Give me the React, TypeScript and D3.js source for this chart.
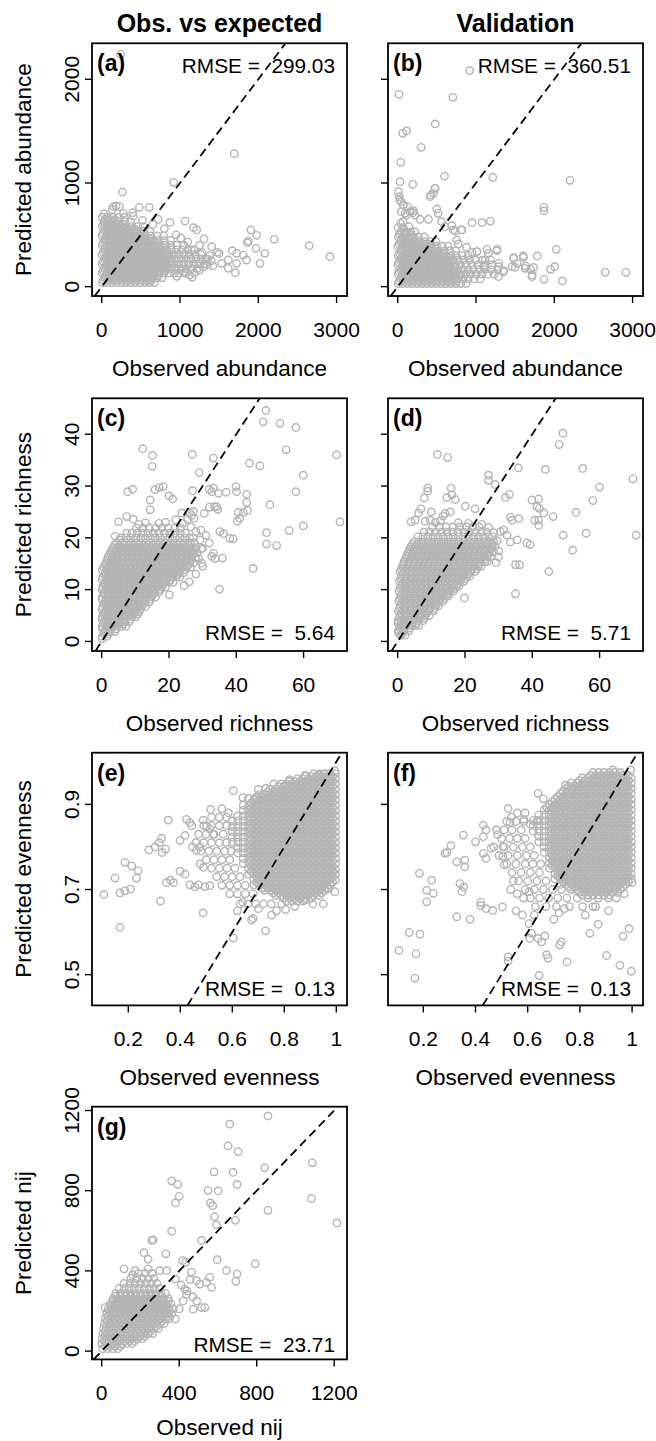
import React from "react";
import * as d3 from "d3";

type Pt = [number, number];

// Scattered points as [observed, predicted].
// Dense central masses as rows: [predicted, observed, observed, ...].

// (a) abundance, observed vs expected
const abundFitMass: number[][] = [
  [40, 8, 70, 128, 190, 252, 310, 372, 430, 495, 555, 615, 675],
  [62, 23, 85, 143, 205, 267, 325, 387, 445, 510, 570, 630],
  [85, 35, 95, 158, 218, 280, 340, 400, 462, 522, 585, 645, 705, 770],
  [107, 50, 110, 173, 233, 295, 355, 415, 477, 537, 600, 660, 720],
  [130, 5, 65, 125, 187, 248, 308, 368, 430, 490, 552, 612, 672, 735, 795, 860, 925, 990, 1060],
  [152, 20, 80, 140, 202, 263, 323, 383, 445, 505, 567, 627, 687, 750, 810],
  [175, 35, 97, 157, 217, 278, 340, 400, 460, 522, 582, 645, 705, 765, 828, 890, 950, 1015, 1080, 1150, 1220],
  [197, 50, 112, 172, 232, 293, 355, 415, 475, 537, 597, 660, 720, 780, 843],
  [220, 4, 66, 127, 188, 249, 311, 372, 433, 494, 556, 617, 678, 740, 801, 862, 924, 985, 1046, 1110, 1175, 1240, 1310],
  [242, 19, 81, 142, 203, 264, 326, 387, 448, 509, 571, 632, 693, 755, 816, 877],
  [265, 36, 97, 158, 219, 280, 342, 403, 464, 525, 587, 648, 709, 770, 832, 893, 954, 1015, 1078, 1140, 1205, 1275, 1350],
  [287, 51, 112, 173, 234, 295, 357, 418, 479, 540, 602, 663, 724, 785, 847],
  [310, 3, 64, 125, 186, 247, 309, 370, 431, 492, 554, 615, 676, 737, 799, 860, 921, 985, 1050, 1120, 1195, 1265],
  [332, 18, 79, 140, 201, 262, 324, 385, 446, 507, 569, 630, 691, 752, 814],
  [355, 34, 95, 156, 217, 278, 340, 401, 462, 523, 585, 646, 707, 768, 830, 891, 955, 1025, 1100, 1180],
  [377, 49, 110, 171, 232, 293, 355, 416, 477, 538, 600, 661, 722, 783],
  [400, 6, 67, 128, 189, 250, 312, 373, 434, 495, 557, 618, 679, 742, 808, 880, 960, 1050],
  [422, 21, 82, 143, 204, 265, 327, 388, 449, 510, 572, 633, 694],
  [445, 37, 98, 159, 220, 281, 343, 404, 465, 526, 590, 655, 725, 800, 880],
  [467, 52, 113, 174, 235, 296, 358, 419, 480, 541, 605],
  [490, 2, 63, 124, 185, 246, 308, 369, 430, 494, 560, 630, 710, 790],
  [512, 17, 78, 139, 200, 261, 323, 384, 445, 509],
  [535, 33, 94, 155, 216, 277, 340, 405, 470, 540, 615],
  [557, 48, 109, 170, 231, 292, 355, 420],
  [580, 5, 66, 127, 188, 250, 315, 385, 460, 530],
  [602, 20, 81, 142, 203, 265],
  [625, 30, 92, 155, 222, 295, 370],
  [647, 45, 107, 170],
  [670, 8, 70, 140, 215, 290],
];
const abundFitPts: Pt[] = [
  [243, 2241], [1694, 1283], [919, 1006], [264, 913], [1064, 633], [1170, 569], [1213, 547], [1306, 460],
  [1404, 386], [1906, 547], [1979, 495], [2204, 457], [2651, 395], [2915, 289], [1477, 331], [1500, 318],
  [1532, 225], [1617, 257], [1668, 347], [1723, 322], [1723, 225], [1860, 424], [1872, 440], [1970, 370],
  [2021, 225], [2085, 322], [1617, 177], [1706, 135], [1851, 257], [1808, 305], [1349, 209], [1157, 90],
  [1064, 145], [638, 90], [608, 765], [481, 765], [396, 714], [404, 682], [723, 649], [872, 620],
  [30, 701], [149, 772], [183, 778], [226, 772], [135, 745], [277, 707], [43, 611], [520, 640],
  [650, 600], [800, 560], [950, 500], [1010, 470], [1100, 430], [1250, 400], [1380, 300], [1400, 250],
  [1250, 160], [1300, 190], [1180, 130], [1120, 110], [960, 100], [1330, 270], [1280, 330], [1150, 350],
  [1050, 400], [1420, 200],
];

// (b) abundance, validation
const abundValMass: number[][] = [
  [30, 5, 66, 127, 188, 250, 311, 372, 433, 494, 556, 617, 678, 740, 805, 875],
  [52, 20, 81, 142, 203, 265, 326, 387, 448, 509, 571, 632, 693, 755],
  [75, 36, 97, 158, 219, 280, 342, 403, 464, 525, 587, 648, 709, 770, 832, 900, 975, 1055],
  [97, 51, 112, 173, 234, 295, 357, 418, 479, 540, 602, 663, 724, 785],
  [120, 4, 65, 126, 187, 248, 310, 371, 432, 493, 555, 616, 677, 738, 800, 865, 930, 1000, 1075, 1150, 1230],
  [142, 19, 80, 141, 202, 263, 325, 386, 447, 508, 570, 631, 692, 753],
  [165, 35, 96, 157, 218, 279, 341, 402, 463, 524, 586, 647, 708, 769, 835, 900, 970, 1040, 1115, 1195, 1280],
  [187, 50, 111, 172, 233, 294, 356, 417, 478, 539, 601, 662, 723],
  [210, 2, 63, 124, 185, 246, 308, 369, 430, 491, 553, 614, 675, 736, 800, 870, 945, 1025, 1110, 1200],
  [232, 17, 78, 139, 200, 261, 323, 384, 445, 506, 568, 629, 690],
  [255, 33, 94, 155, 216, 277, 339, 400, 461, 522, 584, 645, 706, 770, 840, 915, 995, 1080],
  [277, 48, 109, 170, 231, 292, 354, 415, 476, 537, 599, 660],
  [300, 6, 67, 128, 189, 250, 312, 373, 434, 495, 557, 618, 682, 750, 825, 900],
  [322, 21, 82, 143, 204, 265, 327, 388, 449, 510, 572],
  [345, 37, 98, 159, 220, 281, 343, 404, 465, 528, 595, 665, 740],
  [367, 52, 113, 174, 235, 296, 358, 419, 480],
  [390, 3, 64, 125, 186, 247, 309, 370, 432, 498, 570, 645],
  [412, 18, 79, 140, 201, 262, 324, 385],
  [435, 34, 95, 156, 217, 280, 345, 415, 490],
  [457, 49, 110, 171, 232],
  [480, 7, 68, 130, 195, 265, 340],
  [502, 22, 83],
  [525, 38, 100, 165],
  [570, 4, 70],
];
const abundValPts: Pt[] = [
  [919, 2083], [17, 1855], [705, 1826], [479, 1569], [64, 1479], [115, 1502], [299, 1344], [38, 1199],
  [598, 1067], [30, 1013], [192, 987], [1214, 1055], [2201, 1026], [1868, 765], [1868, 730], [2650, 138],
  [2915, 138], [2026, 360], [2103, 55], [1868, 71], [1953, 167], [2004, 193], [1782, 296], [1603, 296],
  [1483, 280], [1462, 193], [1633, 199], [1697, 167], [1718, 113], [1269, 360], [1184, 633], [1077, 617],
  [949, 617], [820, 547], [735, 537], [692, 588], [286, 650], [393, 650], [500, 749], [415, 868],
  [457, 900], [479, 948], [9, 916], [21, 868], [43, 820], [73, 788], [124, 772], [94, 707],
  [158, 723], [38, 611], [81, 547], [201, 733], [222, 691], [26, 836], [68, 788], [47, 723],
  [111, 691], [197, 714], [68, 627], [141, 579], [90, 514], [175, 498], [218, 530], [423, 884],
  [474, 948], [517, 707], [560, 627], [603, 579], [709, 547], [752, 450], [774, 412], [816, 547],
  [1009, 338], [1158, 322], [1265, 347], [1116, 257], [1287, 193], [1351, 145], [1287, 96], [1479, 273],
  [1607, 283], [1500, 186], [1628, 177], [1735, 186], [1714, 96], [1355, 154], [1291, 225], [1013, 338],
  [1141, 360], [1184, 257], [1098, 193], [1526, 225], [880, 380], [950, 330],
];

// (c) richness, observed vs expected
const richFitMass: number[][] = [
  [1.0, 0.2, 1.6],
  [1.5, 0.6, 2.0],
  [1.9, 0.9, 2.4, 3.9],
  [2.4, 0.3, 1.3, 2.8, 4.3],
  [2.9, 0.1, 1.5, 3.0, 4.5, 6.0, 7.2],
  [3.4, 0.5, 1.9, 3.4, 4.9, 6.4],
  [3.8, 0.8, 2.3, 3.8, 5.2, 6.7, 8.2],
  [4.3, 0.1, 1.2, 2.7, 4.2, 5.6, 7.1, 8.6],
  [4.8, 0.2, 1.6, 3.1, 4.6, 6.0, 7.5, 9.0, 10.2],
  [5.3, 0.6, 2.0, 3.5, 5.0, 6.4, 7.9, 9.4, 10.6],
  [5.7, 0.9, 2.4, 3.8, 5.3, 6.8, 8.2, 9.7, 11.1],
  [6.2, 0.1, 1.3, 2.8, 4.2, 5.7, 7.2, 8.6, 10.1, 11.5],
  [6.7, 0.3, 1.7, 3.2, 4.6, 6.1, 7.6, 9.0, 10.5, 11.9, 13.0],
  [7.2, 0.7, 2.1, 3.6, 5.0, 6.5, 8.0, 9.4, 10.9, 12.3],
  [7.6, 1.0, 2.4, 3.9, 5.4, 6.8, 8.3, 9.7, 11.2, 12.7, 14.1],
  [8.1, 0.1, 1.4, 2.8, 4.3, 5.8, 7.2, 8.7, 10.1, 11.6, 13.1, 14.5],
  [8.6, 0.2, 1.7, 3.2, 4.6, 6.1, 7.5, 9.0, 10.4, 11.9, 13.4, 14.8, 16.0],
  [9.1, 0.6, 2.1, 3.6, 5.0, 6.5, 7.9, 9.4, 10.8, 12.3, 13.8, 15.2],
  [9.5, 0.9, 2.4, 3.9, 5.3, 6.8, 8.2, 9.7, 11.2, 12.6, 14.1, 15.5, 17.0],
  [10.0, 0.1, 1.3, 2.8, 4.3, 5.7, 7.2, 8.6, 10.1, 11.6, 13.0, 14.5, 15.9, 17.4],
  [10.5, 0.3, 1.7, 3.2, 4.6, 6.1, 7.6, 9.0, 10.5, 11.9, 13.4, 14.8, 16.3, 17.8, 19.0],
  [11.0, 0.7, 2.1, 3.6, 5.0, 6.5, 8.0, 9.4, 10.9, 12.3, 13.8, 15.2, 16.7, 18.2],
  [11.4, 1.0, 2.5, 3.9, 5.4, 6.8, 8.3, 9.8, 11.2, 12.7, 14.1, 15.6, 17.0, 18.5, 20.0, 21.2],
  [11.9, 0.1, 1.4, 2.9, 4.3, 5.8, 7.2, 8.7, 10.2, 11.6, 13.1, 14.5, 16.0, 17.4, 18.9, 20.4],
  [12.4, 0.4, 1.8, 3.3, 4.7, 6.2, 7.7, 9.1, 10.6, 12.0, 13.5, 14.9, 16.4, 17.9, 19.3, 20.8, 22.2, 23.2],
  [12.9, 0.8, 2.2, 3.7, 5.1, 6.6, 8.1, 9.5, 11.0, 12.4, 13.9, 15.3, 16.8, 18.3, 19.7, 21.2, 22.6],
  [13.3, 1.1, 2.6, 4.0, 5.5, 7.0, 8.4, 9.9, 11.3, 12.8, 14.2, 15.7, 17.2, 18.6, 20.1, 21.5, 23.0, 24.4],
  [13.8, 0.2, 1.5, 3.0, 4.4, 5.9, 7.4, 8.8, 10.3, 11.7, 13.2, 14.6, 16.1, 17.6, 19.0, 20.5, 21.9, 23.4, 24.8],
  [14.3, 0.6, 2.0, 3.5, 4.9, 6.4, 7.9, 9.3, 10.8, 12.2, 13.7, 15.1, 16.6, 18.1, 19.5, 21.0, 22.4, 23.9, 25.3, 26.4],
  [14.8, 1.0, 2.4, 3.9, 5.3, 6.8, 8.3, 9.7, 11.2, 12.6, 14.1, 15.5, 17.0, 18.5, 19.9, 21.4, 22.8, 24.3, 25.7],
  [15.2, 1.3, 2.8, 4.2, 5.7, 7.2, 8.6, 10.1, 11.5, 13.0, 14.4, 15.9, 17.4, 18.8, 20.3, 21.7, 23.2, 24.6, 26.1, 27.3],
  [15.7, 1.7, 3.2, 4.6, 6.1, 7.6, 9.0, 10.5, 11.9, 13.4, 14.8, 16.3, 17.8, 19.2, 20.7, 22.1, 23.6, 25.0, 26.5],
  [16.2, 1.8, 3.3, 4.7, 6.2, 7.7, 9.1, 10.6, 12.0, 13.5, 14.9, 16.4, 17.9, 19.3, 20.8, 22.2, 23.7, 25.1, 26.6, 27.9],
  [16.7, 2.2, 3.7, 5.1, 6.6, 8.1, 9.5, 11.0, 12.4, 13.9, 15.3, 16.8, 18.3, 19.7, 21.2, 22.6, 24.1, 25.5, 27.0],
  [17.1, 2.6, 4.0, 5.5, 6.9, 8.4, 9.9, 11.3, 12.8, 14.2, 15.7, 17.1, 18.6, 20.1, 21.5, 23.0, 24.4, 25.9, 27.3, 28.4],
  [17.6, 3.0, 4.4, 5.9, 7.3, 8.8, 10.3, 11.7, 13.2, 14.6, 16.1, 17.5, 19.0, 20.5, 21.9, 23.4, 24.8, 26.3, 27.7],
  [18.1, 3.4, 4.9, 6.3, 7.8, 9.3, 10.7, 12.2, 13.6, 15.1, 16.5, 18.0, 19.5, 20.9, 22.4, 23.8, 25.3, 26.7, 28.1],
  [18.6, 3.8, 5.3, 6.7, 8.2, 9.7, 11.1, 12.6, 14.0, 15.5, 16.9, 18.4, 19.9, 21.3, 22.8, 24.2, 25.7],
  [19.0, 4.4, 5.9, 7.3, 8.8, 10.3, 11.7, 13.2, 14.6, 16.1, 17.5, 19.0, 20.5, 21.9, 23.4, 24.8, 26.3, 27.6],
  [20.0, 5.7, 7.2, 8.6, 10.1, 11.6, 13.0, 14.5, 15.9, 17.4, 18.8, 20.3, 21.8, 23.2, 24.7, 26.1, 27.2],
  [20.9, 7.4, 9.0, 10.6, 12.2, 13.8, 15.4, 17.0, 18.6, 20.2, 21.8, 23.4, 24.9],
  [21.9, 10.3, 12.2, 14.1, 16.0, 17.9, 19.8, 21.7, 23.4],
];
const richFitPts: Pt[] = [
  [48.8, 44.6], [48.0, 42.4], [53.0, 42.1], [57.7, 41.3], [12.2, 37.2], [15.1, 35.9], [15.0, 33.8], [26.9, 36.1],
  [33.2, 35.4], [54.8, 37.0], [69.8, 36.0], [43.9, 34.4], [47.0, 33.9], [29.0, 32.6], [59.9, 32.1], [7.7, 28.9],
  [9.2, 29.4], [15.8, 29.3], [17.1, 29.7], [18.3, 29.9], [32.0, 29.4], [33.2, 29.6], [39.9, 29.9], [40.1, 28.9],
  [43.1, 28.4], [57.7, 28.9], [27.0, 29.1], [20.0, 28.1], [21.1, 27.5], [50.0, 26.4], [43.1, 26.8], [32.0, 25.9],
  [33.5, 26.0], [34.5, 25.5], [30.5, 24.7], [70.8, 23.1], [59.9, 22.3], [55.7, 21.4], [49.0, 21.0], [49.0, 18.8],
  [52.0, 18.5], [45.0, 14.1], [35.0, 10.1], [20.1, 9.0], [35.1, 21.2], [36.2, 20.8], [38.1, 19.9], [39.1, 19.8],
  [33.2, 17.0], [35.9, 16.1], [29.7, 15.1], [40.6, 24.9], [41.0, 23.8], [40.3, 23.2], [42.1, 24.9], [43.3, 25.3],
  [26.7, 24.3], [27.5, 23.8], [5.0, 23.1], [7.4, 24.1], [9.4, 23.6], [4.0, 20.3], [5.4, 19.6], [0.1, 0.5],
  [14.4, 27.3], [14.4, 25.4], [23.8, 24.8], [26.2, 24.8], [27.2, 25.1], [32.7, 28.9], [34.7, 28.6], [34.2, 26.0],
  [32.7, 16.4], [33.7, 16.0], [31.0, 20.5], [32.0, 19.0], [30.0, 18.0], [29.5, 21.5], [24.5, 10.8], [26.0, 11.5],
  [28.0, 13.0], [30.0, 14.5], [37.0, 28.8], [22.0, 23.5], [24.0, 22.8], [25.5, 23.6], [19.0, 23.0], [17.0, 22.8],
  [26.5, 22.1], [28.0, 21.2], [29.2, 19.6], [29.6, 17.8], [28.8, 16.0], [13.0, 22.9], [11.0, 22.6],
];

// (d) richness, validation
const richValMass: number[][] = [
  [1.2, 0.9, 2.2],
  [1.65, 0.3, 1.5],
  [2.1, 0.2, 1.7, 3.3],
  [2.6, 0.6, 2.1, 3.7],
  [3.1, 0.8, 2.3, 3.8, 5.3, 6.3],
  [3.55, 0.1, 1.2, 2.7, 4.2, 5.7],
  [4.0, 0.1, 1.6, 3.1, 4.6, 6.1, 7.6],
  [4.5, 0.5, 2.0, 3.5, 5.0, 6.5, 8.0],
  [5.0, 0.7, 2.2, 3.7, 5.2, 6.7, 8.2, 9.3],
  [5.45, 1.1, 2.6, 4.1, 5.6, 7.1, 8.6],
  [5.9, 0.2, 1.7, 3.2, 4.7, 6.2, 7.7, 9.2, 10.6],
  [6.4, 0.6, 2.1, 3.6, 5.1, 6.6, 8.1, 9.6, 11.0],
  [6.9, 0.8, 2.3, 3.8, 5.3, 6.8, 8.3, 9.8, 11.3, 12.1],
  [7.35, 1.2, 2.7, 4.2, 5.7, 7.2, 8.7, 10.2, 11.7],
  [7.8, 0.3, 1.8, 3.3, 4.8, 6.3, 7.8, 9.3, 10.8, 12.3, 13.4],
  [8.3, 0.7, 2.2, 3.7, 5.2, 6.7, 8.2, 9.7, 11.2, 12.7, 13.9],
  [8.8, 0.9, 2.4, 3.9, 5.4, 6.9, 8.4, 9.9, 11.4, 12.9, 14.4, 15.1],
  [9.25, 1.3, 2.8, 4.3, 5.8, 7.3, 8.8, 10.3, 11.8, 13.3, 14.8],
  [9.7, 0.4, 1.9, 3.4, 4.9, 6.4, 7.9, 9.4, 10.9, 12.4, 13.9, 15.4, 16.5],
  [10.2, 0.8, 2.3, 3.8, 5.3, 6.8, 8.3, 9.8, 11.3, 12.8, 14.3, 15.8, 16.9],
  [10.7, 1.0, 2.5, 4.0, 5.5, 7.0, 8.5, 10.0, 11.5, 13.0, 14.5, 16.0, 17.5, 18.2],
  [11.15, 1.4, 2.9, 4.4, 5.9, 7.4, 8.9, 10.4, 11.9, 13.4, 14.9, 16.4, 17.9],
  [11.6, 0.5, 2.0, 3.5, 5.0, 6.5, 8.0, 9.5, 11.0, 12.5, 14.0, 15.5, 17.0, 18.5, 19.7],
  [12.1, 0.9, 2.4, 3.9, 5.4, 6.9, 8.4, 9.9, 11.4, 12.9, 14.4, 15.9, 17.4, 18.9, 20.2],
  [12.6, 1.1, 2.6, 4.1, 5.6, 7.1, 8.6, 10.1, 11.6, 13.1, 14.6, 16.1, 17.6, 19.1, 20.6, 21.4],
  [13.05, 1.5, 3.0, 4.5, 6.0, 7.5, 9.0, 10.5, 12.0, 13.5, 15.0, 16.5, 18.0, 19.5, 21.0],
  [13.5, 0.7, 2.2, 3.7, 5.2, 6.7, 8.2, 9.7, 11.2, 12.7, 14.2, 15.7, 17.2, 18.7, 20.2, 21.7, 23.0],
  [14.0, 1.1, 2.6, 4.1, 5.6, 7.1, 8.6, 10.1, 11.6, 13.1, 14.6, 16.1, 17.6, 19.1, 20.6, 22.1, 23.5],
  [14.5, 1.4, 2.9, 4.4, 5.9, 7.4, 8.9, 10.4, 11.9, 13.4, 14.9, 16.4, 17.9, 19.4, 20.9, 22.4, 23.9, 24.8],
  [14.95, 1.8, 3.3, 4.8, 6.3, 7.8, 9.3, 10.8, 12.3, 13.8, 15.3, 16.8, 18.3, 19.8, 21.3, 22.8, 24.3],
  [15.4, 1.9, 3.4, 4.9, 6.4, 7.9, 9.4, 10.9, 12.4, 13.9, 15.4, 16.9, 18.4, 19.9, 21.4, 22.9, 24.4, 25.9, 26.6],
  [15.9, 2.3, 3.8, 5.3, 6.8, 8.3, 9.8, 11.3, 12.8, 14.3, 15.8, 17.3, 18.8, 20.3, 21.8, 23.3, 24.8, 26.2],
  [16.4, 2.6, 4.1, 5.6, 7.1, 8.6, 10.1, 11.6, 13.1, 14.6, 16.1, 17.6, 19.1, 20.6, 22.1, 23.6, 25.1, 26.6, 27.6],
  [16.85, 3.0, 4.5, 6.0, 7.5, 9.0, 10.5, 12.0, 13.5, 15.0, 16.5, 18.0, 19.5, 21.0, 22.5, 24.0, 25.5, 27.0],
  [17.3, 3.2, 4.7, 6.2, 7.7, 9.2, 10.7, 12.2, 13.7, 15.2, 16.7, 18.2, 19.7, 21.2, 22.7, 24.2, 25.7, 27.2, 28.4],
  [17.8, 3.6, 5.1, 6.6, 8.1, 9.6, 11.1, 12.6, 14.1, 15.6, 17.1, 18.6, 20.1, 21.6, 23.1, 24.6, 26.1, 27.6],
  [18.3, 3.9, 5.4, 6.9, 8.4, 9.9, 11.4, 12.9, 14.4, 15.9, 17.4, 18.9, 20.4, 21.9, 23.4, 24.9, 26.4, 27.9, 29.0],
  [18.75, 4.3, 5.8, 7.3, 8.8, 10.3, 11.8, 13.3, 14.8, 16.3, 17.8, 19.3, 20.8, 22.3, 23.8, 25.3, 26.8, 28.2],
  [19.2, 4.8, 6.3, 7.8, 9.3, 10.8, 12.3, 13.8, 15.3, 16.8, 18.3, 19.8, 21.3, 22.8, 24.3, 25.8, 27.3, 28.6],
  [20.2, 6.0, 7.5, 9.0, 10.5, 12.0, 13.5, 15.0, 16.5, 18.0, 19.5, 21.0, 22.5, 24.0, 25.5, 27.0, 28.2],
  [21.1, 7.8, 9.5, 11.2, 12.9, 14.6, 16.3, 18.0, 19.7, 21.4, 23.1, 24.8, 26.4],
  [22.1, 10.4, 12.4, 14.4, 16.4, 18.4, 20.4, 22.4, 24.2],
];
const richValPts: Pt[] = [
  [49.1, 40.2], [48.0, 38.0], [11.8, 36.1], [14.8, 35.5], [35.9, 33.5], [43.9, 33.2], [55.0, 33.4], [69.9, 31.4],
  [60.0, 29.8], [27.0, 32.1], [27.0, 31.1], [29.0, 30.3], [32.0, 27.8], [33.2, 28.4], [8.9, 29.6], [8.9, 29.0],
  [7.9, 27.7], [6.9, 25.6], [15.9, 29.6], [14.6, 27.8], [16.1, 28.3], [17.1, 27.4], [20.1, 26.1], [23.0, 25.6],
  [39.9, 27.3], [41.9, 27.5], [41.4, 26.0], [43.4, 24.8], [42.1, 25.7], [46.2, 24.1], [58.0, 27.2], [53.0, 24.9],
  [40.7, 23.4], [41.9, 22.4], [41.9, 23.4], [33.5, 24.0], [34.0, 23.4], [36.0, 23.7], [49.2, 20.5], [56.0, 20.9],
  [52.0, 17.6], [70.9, 20.5], [44.9, 13.5], [35.0, 9.2], [19.8, 8.4], [30.0, 16.3], [35.0, 14.8], [36.2, 14.8],
  [38.4, 19.0], [39.4, 18.7], [33.5, 19.2], [35.5, 19.6], [30.5, 21.2], [31.5, 21.5], [32.5, 20.5], [1.0, 1.2],
  [4.0, 23.1], [5.2, 23.4], [8.2, 23.2], [9.7, 23.4], [11.2, 23.0], [12.7, 23.3], [6.2, 24.8], [10.0, 25.0],
  [13.5, 24.2], [14.1, 24.7], [15.6, 25.0], [25.0, 22.6], [27.0, 22.0], [28.5, 21.0], [21.0, 22.8], [18.0, 22.9],
  [29.6, 19.4], [30.0, 17.5], [29.2, 15.2],
];

// (e) evenness, observed vs expected
const evenFitMass: number[][] = [
  [0.972, 0.913, 0.934, 0.955, 0.976, 0.997],
  [0.966, 0.882, 0.903, 0.924, 0.944, 0.965, 0.986],
  [0.960, 0.850, 0.871, 0.892, 0.913, 0.934, 0.955, 0.976, 0.997],
  [0.954, 0.819, 0.840, 0.861, 0.882, 0.903, 0.924, 0.944, 0.965, 0.986],
  [0.948, 0.788, 0.809, 0.830, 0.850, 0.871, 0.892, 0.913, 0.934, 0.955, 0.976, 0.997],
  [0.942, 0.777, 0.798, 0.819, 0.840, 0.861, 0.882, 0.903, 0.924, 0.944, 0.965, 0.986],
  [0.936, 0.746, 0.767, 0.788, 0.809, 0.830, 0.850, 0.871, 0.892, 0.913, 0.934, 0.955, 0.976, 0.997],
  [0.929, 0.736, 0.757, 0.777, 0.798, 0.819, 0.840, 0.861, 0.882, 0.903, 0.924, 0.944, 0.965, 0.986],
  [0.923, 0.704, 0.725, 0.746, 0.767, 0.788, 0.809, 0.830, 0.850, 0.871, 0.892, 0.913, 0.934, 0.955, 0.976, 0.997],
  [0.917, 0.694, 0.715, 0.736, 0.757, 0.777, 0.798, 0.819, 0.840, 0.861, 0.882, 0.903, 0.924, 0.944, 0.965, 0.986],
  [0.911, 0.683, 0.704, 0.725, 0.746, 0.767, 0.788, 0.809, 0.830, 0.850, 0.871, 0.892, 0.913, 0.934, 0.955, 0.976, 0.997],
  [0.904, 0.673, 0.694, 0.715, 0.736, 0.757, 0.777, 0.798, 0.819, 0.840, 0.861, 0.882, 0.903, 0.924, 0.944, 0.965, 0.986],
  [0.898, 0.642, 0.663, 0.683, 0.704, 0.725, 0.746, 0.767, 0.788, 0.809, 0.830, 0.850, 0.871, 0.892, 0.913, 0.934, 0.955, 0.976, 0.997],
  [0.892, 0.673, 0.694, 0.715, 0.736, 0.757, 0.777, 0.798, 0.819, 0.840, 0.861, 0.882, 0.903, 0.924, 0.944, 0.965, 0.986],
  [0.886, 0.642, 0.663, 0.683, 0.704, 0.725, 0.746, 0.767, 0.788, 0.809, 0.830, 0.850, 0.871, 0.892, 0.913, 0.934, 0.955, 0.976, 0.997],
  [0.879, 0.673, 0.694, 0.715, 0.736, 0.757, 0.777, 0.798, 0.819, 0.840, 0.861, 0.882, 0.903, 0.924, 0.944, 0.965, 0.986],
  [0.873, 0.621, 0.642, 0.663, 0.683, 0.704, 0.725, 0.746, 0.767, 0.788, 0.809, 0.830, 0.850, 0.871, 0.892, 0.913, 0.934, 0.955, 0.976, 0.997],
  [0.867, 0.673, 0.694, 0.715, 0.736, 0.757, 0.777, 0.798, 0.819, 0.840, 0.861, 0.882, 0.903, 0.924, 0.944, 0.965, 0.986],
  [0.861, 0.600, 0.621, 0.642, 0.663, 0.683, 0.704, 0.725, 0.746, 0.767, 0.788, 0.809, 0.830, 0.850, 0.871, 0.892, 0.913, 0.934, 0.955, 0.976, 0.997],
  [0.854, 0.673, 0.694, 0.715, 0.736, 0.757, 0.777, 0.798, 0.819, 0.840, 0.861, 0.882, 0.903, 0.924, 0.944, 0.965, 0.986],
  [0.848, 0.600, 0.621, 0.642, 0.663, 0.683, 0.704, 0.725, 0.746, 0.767, 0.788, 0.809, 0.830, 0.850, 0.871, 0.892, 0.913, 0.934, 0.955, 0.976, 0.997],
  [0.842, 0.673, 0.694, 0.715, 0.736, 0.757, 0.777, 0.798, 0.819, 0.840, 0.861, 0.882, 0.903, 0.924, 0.944, 0.965, 0.986],
  [0.836, 0.600, 0.621, 0.642, 0.663, 0.683, 0.704, 0.725, 0.746, 0.767, 0.788, 0.809, 0.830, 0.850, 0.871, 0.892, 0.913, 0.934, 0.955, 0.976, 0.997],
  [0.829, 0.673, 0.694, 0.715, 0.736, 0.757, 0.777, 0.798, 0.819, 0.840, 0.861, 0.882, 0.903, 0.924, 0.944, 0.965, 0.986],
  [0.823, 0.600, 0.621, 0.642, 0.663, 0.683, 0.704, 0.725, 0.746, 0.767, 0.788, 0.809, 0.830, 0.850, 0.871, 0.892, 0.913, 0.934, 0.955, 0.976, 0.997],
  [0.817, 0.673, 0.694, 0.715, 0.736, 0.757, 0.777, 0.798, 0.819, 0.840, 0.861, 0.882, 0.903, 0.924, 0.944, 0.965, 0.986],
  [0.811, 0.600, 0.621, 0.642, 0.663, 0.683, 0.704, 0.725, 0.746, 0.767, 0.788, 0.809, 0.830, 0.850, 0.871, 0.892, 0.913, 0.934, 0.955, 0.976, 0.997],
  [0.804, 0.673, 0.694, 0.715, 0.736, 0.757, 0.777, 0.798, 0.819, 0.840, 0.861, 0.882, 0.903, 0.924, 0.944, 0.965, 0.986],
  [0.798, 0.621, 0.642, 0.663, 0.683, 0.704, 0.725, 0.746, 0.767, 0.788, 0.809, 0.830, 0.850, 0.871, 0.892, 0.913, 0.934, 0.955, 0.976, 0.997],
  [0.792, 0.673, 0.694, 0.715, 0.736, 0.757, 0.777, 0.798, 0.819, 0.840, 0.861, 0.882, 0.903, 0.924, 0.944, 0.965, 0.986],
  [0.786, 0.621, 0.642, 0.663, 0.683, 0.704, 0.725, 0.746, 0.767, 0.788, 0.809, 0.830, 0.850, 0.871, 0.892, 0.913, 0.934, 0.955, 0.976, 0.997],
  [0.779, 0.673, 0.694, 0.715, 0.736, 0.757, 0.777, 0.798, 0.819, 0.840, 0.861, 0.882, 0.903, 0.924, 0.944, 0.965, 0.986],
  [0.773, 0.642, 0.663, 0.683, 0.704, 0.725, 0.746, 0.767, 0.788, 0.809, 0.830, 0.850, 0.871, 0.892, 0.913, 0.934, 0.955, 0.976, 0.997],
  [0.767, 0.673, 0.694, 0.715, 0.736, 0.757, 0.777, 0.798, 0.819, 0.840, 0.861, 0.882, 0.903, 0.924, 0.944, 0.965, 0.986],
  [0.761, 0.642, 0.663, 0.683, 0.704, 0.725, 0.746, 0.767, 0.788, 0.809, 0.830, 0.850, 0.871, 0.892, 0.913, 0.934, 0.955, 0.976, 0.997],
  [0.754, 0.673, 0.694, 0.715, 0.736, 0.757, 0.777, 0.798, 0.819, 0.840, 0.861, 0.882, 0.903, 0.924, 0.944, 0.965, 0.986],
  [0.748, 0.663, 0.683, 0.704, 0.725, 0.746, 0.767, 0.788, 0.809, 0.830, 0.850, 0.871, 0.892, 0.913, 0.934, 0.955, 0.976, 0.997],
  [0.742, 0.673, 0.694, 0.715, 0.736, 0.757, 0.777, 0.798, 0.819, 0.840, 0.861, 0.882, 0.903, 0.924, 0.944, 0.965, 0.986],
  [0.736, 0.663, 0.683, 0.704, 0.725, 0.746, 0.767, 0.788, 0.809, 0.830, 0.850, 0.871, 0.892, 0.913, 0.934, 0.955, 0.976, 0.997],
  [0.729, 0.694, 0.715, 0.736, 0.757, 0.777, 0.798, 0.819, 0.840, 0.861, 0.882, 0.903, 0.924, 0.944, 0.965, 0.986],
  [0.723, 0.683, 0.704, 0.725, 0.746, 0.767, 0.788, 0.809, 0.830, 0.850, 0.871, 0.892, 0.913, 0.934, 0.955, 0.976, 0.997],
  [0.717, 0.694, 0.715, 0.736, 0.757, 0.777, 0.798, 0.819, 0.840, 0.861, 0.882, 0.903, 0.924, 0.944, 0.965, 0.986],
  [0.711, 0.683, 0.704, 0.725, 0.746, 0.767, 0.788, 0.809, 0.830, 0.850, 0.871, 0.892, 0.913, 0.934, 0.955, 0.976],
  [0.704, 0.715, 0.736, 0.757, 0.777, 0.798, 0.819, 0.840, 0.861, 0.882, 0.903, 0.924, 0.944, 0.965],
  [0.698, 0.725, 0.746, 0.767, 0.788, 0.809, 0.830, 0.850, 0.871, 0.892, 0.913, 0.934, 0.955],
  [0.692, 0.757, 0.777, 0.798, 0.819, 0.840, 0.861, 0.882, 0.903, 0.924, 0.944],
  [0.686, 0.767, 0.788, 0.809, 0.830, 0.850, 0.871, 0.892, 0.913, 0.934],
  [0.679, 0.798, 0.819, 0.840, 0.861, 0.882, 0.903],
  [0.673, 0.809, 0.830, 0.850, 0.871],
  // looser rim to the left and below
  [0.870, 0.52, 0.55, 0.578],
  [0.850, 0.49, 0.52, 0.55, 0.578],
  [0.830, 0.47, 0.50, 0.53, 0.565],
  [0.810, 0.46, 0.49, 0.52, 0.55, 0.578],
  [0.790, 0.48, 0.51, 0.54, 0.57, 0.595],
  [0.770, 0.50, 0.53, 0.56, 0.59],
  [0.750, 0.52, 0.55, 0.58, 0.61],
  [0.730, 0.54, 0.57, 0.60, 0.63],
  [0.710, 0.56, 0.59, 0.62, 0.65],
  [0.690, 0.59, 0.62, 0.65, 0.68],
  [0.666, 0.63, 0.66, 0.69, 0.72, 0.75, 0.79, 0.91, 0.95],
];
const evenFitPts: Pt[] = [
  [0.106, 0.688], [0.168, 0.611], [0.149, 0.727], [0.187, 0.764], [0.213, 0.755], [0.238, 0.744], [0.232, 0.727], [0.209, 0.701],
  [0.187, 0.697], [0.168, 0.692], [0.324, 0.673], [0.279, 0.793], [0.303, 0.800], [0.319, 0.810], [0.328, 0.820], [0.354, 0.863],
  [0.517, 0.888], [0.330, 0.787], [0.343, 0.795], [0.347, 0.716], [0.362, 0.722], [0.374, 0.716], [0.399, 0.743], [0.418, 0.736],
  [0.424, 0.865], [0.437, 0.857], [0.444, 0.850], [0.399, 0.815], [0.418, 0.827], [0.488, 0.863], [0.501, 0.849], [0.514, 0.842],
  [0.526, 0.830], [0.488, 0.645], [0.604, 0.586], [0.728, 0.603], [0.674, 0.628], [0.680, 0.632], [0.751, 0.640], [0.805, 0.653],
  [0.995, 0.695], [0.729, 0.938], [0.803, 0.920], [0.604, 0.932], [0.640, 0.916], [0.662, 0.914], [0.690, 0.916], [0.695, 0.898],
  [0.854, 0.942], [0.867, 0.938], [0.937, 0.969], [0.995, 0.979], [0.447, 0.800], [0.462, 0.792], [0.476, 0.800], [0.476, 0.760],
  [0.489, 0.752], [0.437, 0.711], [0.456, 0.706], [0.470, 0.711], [0.495, 0.707], [0.514, 0.709], [0.620, 0.650], [0.700, 0.655],
  [0.770, 0.650], [0.840, 0.660], [0.880, 0.675], [0.640, 0.670], [0.700, 0.935], [0.760, 0.948], [0.820, 0.958], [0.880, 0.968],
  [0.970, 0.702], [0.585, 0.880], [0.560, 0.890],
];

// (f) evenness, validation
const evenValMass: number[][] = [
  [0.975, 0.850, 0.871, 0.892, 0.913, 0.934, 0.955],
  [0.968, 0.840, 0.861, 0.882, 0.903, 0.924, 0.944, 0.965, 0.986],
  [0.962, 0.809, 0.830, 0.850, 0.871, 0.892, 0.913, 0.934, 0.955, 0.976, 0.997],
  [0.956, 0.798, 0.819, 0.840, 0.861, 0.882, 0.903, 0.924, 0.944, 0.965, 0.986],
  [0.950, 0.767, 0.788, 0.809, 0.830, 0.850, 0.871, 0.892, 0.913, 0.934, 0.955, 0.976, 0.997],
  [0.943, 0.757, 0.777, 0.798, 0.819, 0.840, 0.861, 0.882, 0.903, 0.924, 0.944, 0.965, 0.986],
  [0.937, 0.746, 0.767, 0.788, 0.809, 0.830, 0.850, 0.871, 0.892, 0.913, 0.934, 0.955, 0.976, 0.997],
  [0.931, 0.736, 0.757, 0.777, 0.798, 0.819, 0.840, 0.861, 0.882, 0.903, 0.924, 0.944, 0.965, 0.986],
  [0.925, 0.725, 0.746, 0.767, 0.788, 0.809, 0.830, 0.850, 0.871, 0.892, 0.913, 0.934, 0.955, 0.976, 0.997],
  [0.918, 0.715, 0.736, 0.757, 0.777, 0.798, 0.819, 0.840, 0.861, 0.882, 0.903, 0.924, 0.944, 0.965, 0.986],
  [0.912, 0.704, 0.725, 0.746, 0.767, 0.788, 0.809, 0.830, 0.850, 0.871, 0.892, 0.913, 0.934, 0.955, 0.976, 0.997],
  [0.906, 0.694, 0.715, 0.736, 0.757, 0.777, 0.798, 0.819, 0.840, 0.861, 0.882, 0.903, 0.924, 0.944, 0.965, 0.986],
  [0.900, 0.683, 0.704, 0.725, 0.746, 0.767, 0.788, 0.809, 0.830, 0.850, 0.871, 0.892, 0.913, 0.934, 0.955, 0.976, 0.997],
  [0.893, 0.673, 0.694, 0.715, 0.736, 0.757, 0.777, 0.798, 0.819, 0.840, 0.861, 0.882, 0.903, 0.924, 0.944, 0.965, 0.986],
  [0.887, 0.663, 0.683, 0.704, 0.725, 0.746, 0.767, 0.788, 0.809, 0.830, 0.850, 0.871, 0.892, 0.913, 0.934, 0.955, 0.976, 0.997],
  [0.881, 0.694, 0.715, 0.736, 0.757, 0.777, 0.798, 0.819, 0.840, 0.861, 0.882, 0.903, 0.924, 0.944, 0.965, 0.986],
  [0.875, 0.642, 0.663, 0.683, 0.704, 0.725, 0.746, 0.767, 0.788, 0.809, 0.830, 0.850, 0.871, 0.892, 0.913, 0.934, 0.955, 0.976, 0.997],
  [0.868, 0.694, 0.715, 0.736, 0.757, 0.777, 0.798, 0.819, 0.840, 0.861, 0.882, 0.903, 0.924, 0.944, 0.965, 0.986],
  [0.862, 0.621, 0.642, 0.663, 0.683, 0.704, 0.725, 0.746, 0.767, 0.788, 0.809, 0.830, 0.850, 0.871, 0.892, 0.913, 0.934, 0.955, 0.976, 0.997],
  [0.856, 0.694, 0.715, 0.736, 0.757, 0.777, 0.798, 0.819, 0.840, 0.861, 0.882, 0.903, 0.924, 0.944, 0.965, 0.986],
  [0.850, 0.621, 0.642, 0.663, 0.683, 0.704, 0.725, 0.746, 0.767, 0.788, 0.809, 0.830, 0.850, 0.871, 0.892, 0.913, 0.934, 0.955, 0.976, 0.997],
  [0.843, 0.694, 0.715, 0.736, 0.757, 0.777, 0.798, 0.819, 0.840, 0.861, 0.882, 0.903, 0.924, 0.944, 0.965, 0.986],
  [0.837, 0.621, 0.642, 0.663, 0.683, 0.704, 0.725, 0.746, 0.767, 0.788, 0.809, 0.830, 0.850, 0.871, 0.892, 0.913, 0.934, 0.955, 0.976, 0.997],
  [0.831, 0.694, 0.715, 0.736, 0.757, 0.777, 0.798, 0.819, 0.840, 0.861, 0.882, 0.903, 0.924, 0.944, 0.965, 0.986],
  [0.825, 0.642, 0.663, 0.683, 0.704, 0.725, 0.746, 0.767, 0.788, 0.809, 0.830, 0.850, 0.871, 0.892, 0.913, 0.934, 0.955, 0.976, 0.997],
  [0.818, 0.694, 0.715, 0.736, 0.757, 0.777, 0.798, 0.819, 0.840, 0.861, 0.882, 0.903, 0.924, 0.944, 0.965, 0.986],
  [0.812, 0.642, 0.663, 0.683, 0.704, 0.725, 0.746, 0.767, 0.788, 0.809, 0.830, 0.850, 0.871, 0.892, 0.913, 0.934, 0.955, 0.976, 0.997],
  [0.806, 0.694, 0.715, 0.736, 0.757, 0.777, 0.798, 0.819, 0.840, 0.861, 0.882, 0.903, 0.924, 0.944, 0.965, 0.986],
  [0.800, 0.663, 0.683, 0.704, 0.725, 0.746, 0.767, 0.788, 0.809, 0.830, 0.850, 0.871, 0.892, 0.913, 0.934, 0.955, 0.976, 0.997],
  [0.793, 0.694, 0.715, 0.736, 0.757, 0.777, 0.798, 0.819, 0.840, 0.861, 0.882, 0.903, 0.924, 0.944, 0.965, 0.986],
  [0.787, 0.663, 0.683, 0.704, 0.725, 0.746, 0.767, 0.788, 0.809, 0.830, 0.850, 0.871, 0.892, 0.913, 0.934, 0.955, 0.976, 0.997],
  [0.781, 0.694, 0.715, 0.736, 0.757, 0.777, 0.798, 0.819, 0.840, 0.861, 0.882, 0.903, 0.924, 0.944, 0.965, 0.986],
  [0.775, 0.683, 0.704, 0.725, 0.746, 0.767, 0.788, 0.809, 0.830, 0.850, 0.871, 0.892, 0.913, 0.934, 0.955, 0.976, 0.997],
  [0.768, 0.694, 0.715, 0.736, 0.757, 0.777, 0.798, 0.819, 0.840, 0.861, 0.882, 0.903, 0.924, 0.944, 0.965, 0.986],
  [0.762, 0.683, 0.704, 0.725, 0.746, 0.767, 0.788, 0.809, 0.830, 0.850, 0.871, 0.892, 0.913, 0.934, 0.955, 0.976, 0.997],
  [0.756, 0.694, 0.715, 0.736, 0.757, 0.777, 0.798, 0.819, 0.840, 0.861, 0.882, 0.903, 0.924, 0.944, 0.965, 0.986],
  [0.750, 0.683, 0.704, 0.725, 0.746, 0.767, 0.788, 0.809, 0.830, 0.850, 0.871, 0.892, 0.913, 0.934, 0.955, 0.976, 0.997],
  [0.743, 0.715, 0.736, 0.757, 0.777, 0.798, 0.819, 0.840, 0.861, 0.882, 0.903, 0.924, 0.944, 0.965, 0.986],
  [0.737, 0.704, 0.725, 0.746, 0.767, 0.788, 0.809, 0.830, 0.850, 0.871, 0.892, 0.913, 0.934, 0.955, 0.976, 0.997],
  [0.731, 0.715, 0.736, 0.757, 0.777, 0.798, 0.819, 0.840, 0.861, 0.882, 0.903, 0.924, 0.944, 0.965, 0.986],
  [0.725, 0.704, 0.725, 0.746, 0.767, 0.788, 0.809, 0.830, 0.850, 0.871, 0.892, 0.913, 0.934, 0.955, 0.976, 0.997],
  [0.718, 0.736, 0.757, 0.777, 0.798, 0.819, 0.840, 0.861, 0.882, 0.903, 0.924, 0.944, 0.965, 0.986],
  [0.712, 0.725, 0.746, 0.767, 0.788, 0.809, 0.830, 0.850, 0.871, 0.892, 0.913, 0.934, 0.955, 0.976],
  [0.706, 0.757, 0.777, 0.798, 0.819, 0.840, 0.861, 0.882, 0.903, 0.924, 0.944, 0.965],
  [0.700, 0.767, 0.788, 0.809, 0.830, 0.850, 0.871, 0.892, 0.913, 0.934, 0.955],
  [0.693, 0.798, 0.819, 0.840, 0.861, 0.882, 0.903, 0.924, 0.944],
  [0.687, 0.809, 0.830, 0.850, 0.871, 0.892, 0.913],
  // looser rim to the left and below
  [0.880, 0.56, 0.59],
  [0.860, 0.52, 0.555, 0.585],
  [0.840, 0.48, 0.51, 0.54, 0.575],
  [0.820, 0.50, 0.53, 0.56, 0.59],
  [0.800, 0.47, 0.51, 0.545, 0.58, 0.61],
  [0.780, 0.49, 0.525, 0.56, 0.595, 0.625],
  [0.760, 0.52, 0.555, 0.59, 0.62, 0.65],
  [0.740, 0.54, 0.575, 0.61, 0.645],
  [0.720, 0.565, 0.60, 0.635, 0.67],
  [0.700, 0.59, 0.625, 0.66, 0.695, 0.73],
  [0.680, 0.61, 0.645, 0.68, 0.715, 0.75, 0.79, 0.83, 0.87, 0.91],
  [0.660, 0.63, 0.67, 0.71, 0.76, 0.81, 0.86],
];
const evenValPts: Pt[] = [
  [0.107, 0.557], [0.168, 0.492], [0.172, 0.549], [0.146, 0.599], [0.187, 0.595], [0.185, 0.738], [0.232, 0.722], [0.213, 0.698],
  [0.238, 0.691], [0.213, 0.671], [0.283, 0.785], [0.290, 0.787], [0.306, 0.803], [0.328, 0.765], [0.359, 0.769], [0.359, 0.753],
  [0.328, 0.636], [0.379, 0.630], [0.353, 0.828], [0.400, 0.812], [0.430, 0.851], [0.440, 0.840], [0.430, 0.824], [0.430, 0.785],
  [0.460, 0.797], [0.440, 0.773], [0.340, 0.714], [0.355, 0.706], [0.348, 0.695], [0.420, 0.670], [0.420, 0.662], [0.440, 0.655],
  [0.466, 0.651], [0.503, 0.659], [0.485, 0.829], [0.505, 0.801], [0.510, 0.758], [0.505, 0.778], [0.525, 0.890], [0.538, 0.870],
  [0.532, 0.858], [0.525, 0.542], [0.525, 0.532], [0.644, 0.498], [0.751, 0.530], [0.672, 0.547], [0.678, 0.539], [0.608, 0.585],
  [0.640, 0.585], [0.653, 0.577], [0.615, 0.597], [0.666, 0.591], [0.723, 0.570], [0.729, 0.577], [0.902, 0.545], [0.953, 0.522],
  [0.997, 0.508], [0.965, 0.590], [0.988, 0.608], [0.870, 0.618], [0.838, 0.597], [1.000, 0.716], [0.745, 0.945], [0.640, 0.926],
  [0.660, 0.913], [0.850, 0.956], [0.927, 0.981], [0.995, 0.981], [0.585, 0.865], [0.610, 0.853], [0.636, 0.862], [0.584, 0.680],
  [0.606, 0.695], [0.555, 0.650], [0.580, 0.640], [0.605, 0.620], [0.625, 0.640], [0.560, 0.690], [0.535, 0.700], [0.545, 0.720],
  [0.700, 0.630], [0.720, 0.645], [0.740, 0.655], [0.820, 0.640], [0.850, 0.660], [0.910, 0.650], [0.940, 0.680], [0.970, 0.690],
];

// (g) nij, observed vs expected
const nijMass: number[][] = [
  [12, 5, 30, 57, 83],
  [24, 18, 43, 70, 96],
  [37, 0, 26, 52, 78, 104, 130, 156],
  [49, 13, 39, 65, 91, 117, 143, 169],
  [62, 3, 29, 55, 81, 107, 133, 159, 185, 210],
  [74, 16, 42, 68, 94, 120, 146, 172, 198, 223],
  [87, 6, 32, 58, 84, 110, 136, 162, 188, 214, 240, 262],
  [99, 19, 45, 71, 97, 123, 149, 175, 201, 227, 253],
  [112, 10, 36, 62, 88, 114, 140, 166, 192, 218, 244, 270, 292],
  [124, 23, 49, 75, 101, 127, 153, 179, 205, 231, 257, 283],
  [137, 14, 40, 66, 92, 118, 144, 170, 196, 222, 248, 274, 300, 322],
  [149, 27, 53, 79, 105, 131, 157, 183, 209, 235, 261, 287, 313],
  [162, 19, 45, 71, 97, 123, 149, 175, 201, 227, 253, 279, 305, 331, 350],
  [174, 32, 58, 84, 110, 136, 162, 188, 214, 240, 266, 292, 318, 344],
  [187, 26, 52, 78, 104, 130, 156, 182, 208, 234, 260, 286, 312, 338, 362],
  [199, 39, 65, 91, 117, 143, 169, 195, 221, 247, 273, 299, 325, 351],
  [212, 34, 60, 86, 112, 138, 164, 190, 216, 242, 268, 294, 320, 346, 370],
  [224, 47, 73, 99, 125, 151, 177, 203, 229, 255, 281, 307, 333],
  [237, 45, 71, 97, 123, 149, 175, 201, 227, 253, 279, 305, 331, 357],
  [249, 58, 84, 110, 136, 162, 188, 214, 240, 266, 292, 318, 344],
  [262, 58, 84, 110, 136, 162, 188, 214, 240, 266, 292, 318, 344],
  [274, 71, 97, 123, 149, 175, 201, 227, 253, 279, 305],
  [287, 72, 98, 124, 150, 176, 202, 228, 254, 280, 306, 330],
  [312, 90, 116, 142, 168, 194, 220, 246, 272, 298],
  [337, 115, 145, 172, 200, 228, 256, 285],
  [362, 150, 180, 210, 240, 270],
  [387, 190, 225, 260],
];
const nijPts: Pt[] = [
  [858, 1173], [661, 1132], [652, 1023], [704, 995], [841, 914], [1087, 939], [1082, 761], [580, 894],
  [678, 891], [699, 831], [361, 849], [392, 832], [400, 772], [381, 739], [549, 802], [601, 799],
  [561, 739], [573, 725], [582, 670], [592, 630], [690, 652], [858, 702], [1214, 639], [793, 435],
  [596, 456], [644, 401], [699, 384], [692, 348], [515, 552], [361, 598], [266, 555], [258, 552],
  [218, 491], [240, 458], [331, 485], [417, 451], [434, 443], [115, 410], [17, 217], [464, 393],
  [489, 351], [506, 334], [456, 356], [558, 368], [541, 343], [567, 318], [472, 209], [515, 217],
  [532, 217], [429, 309], [438, 284], [335, 401], [300, 401], [172, 401], [160, 380], [240, 410],
  [380, 360], [410, 330], [440, 300], [470, 270], [490, 250], [420, 250], [400, 210], [380, 160],
];

const FONT = "'Liberation Sans', Arial, Helvetica, sans-serif";
const W = 656;
const H = 1441;
const COL_X = [92, 388];
const ROW_Y = [43.3, 398.3, 752.7, 1106.7];
const PW = 255;
const PH = 252.7;
const PT_COLOR = "#b4b4b4";
const COLUMN_TITLES = ["Obs. vs expected", "Validation"];

interface PanelSpec {
  tag: string;
  col: number;
  row: number;
  xLim: [number, number];
  yLim: [number, number];
  xTicks: number[];
  yTicks: number[];
  xTitle: string;
  xTitleDy: number;
  yTitle: string;
  rmse: string;
  rmseTop: boolean;
  rmseDy: number;
  pts: Pt[];
  mass: number[][];
}

const panels: PanelSpec[] = [
  {
    tag: "(a)", col: 0, row: 0, xLim: [-124, 3133], yLim: [-90, 2347],
    xTicks: [0, 1000, 2000, 3000], yTicks: [0, 1000, 2000],
    xTitle: "Observed abundance", xTitleDy: 80, yTitle: "Predicted abundance",
    rmse: "RMSE =  299.03", rmseTop: true, rmseDy: 30, pts: abundFitPts, mass: abundFitMass,
  },
  {
    tag: "(b)", col: 1, row: 0, xLim: [-124, 3133], yLim: [-90, 2347],
    xTicks: [0, 1000, 2000, 3000], yTicks: [0, 1000, 2000],
    xTitle: "Observed abundance", xTitleDy: 80, yTitle: "",
    rmse: "RMSE =  360.51", rmseTop: true, rmseDy: 30, pts: abundValPts, mass: abundValMass,
  },
  {
    tag: "(c)", col: 0, row: 1, xLim: [-2.88, 72.9], yLim: [-1.85, 46.94],
    xTicks: [0, 20, 40, 60], yTicks: [0, 10, 20, 30, 40],
    xTitle: "Observed richness", xTitleDy: 80, yTitle: "Predicted richness",
    rmse: "RMSE =  5.64", rmseTop: false, rmseDy: 11.5, pts: richFitPts, mass: richFitMass,
  },
  {
    tag: "(d)", col: 1, row: 1, xLim: [-2.88, 72.9], yLim: [-1.85, 46.94],
    xTicks: [0, 20, 40, 60], yTicks: [0, 10, 20, 30, 40],
    xTitle: "Observed richness", xTitleDy: 80, yTitle: "",
    rmse: "RMSE =  5.71", rmseTop: false, rmseDy: 11.5, pts: richValPts, mass: richValMass,
  },
  {
    tag: "(e)", col: 0, row: 2, xLim: [0.0604, 1.0412], yLim: [0.4278, 1.0214],
    xTicks: [0.2, 0.4, 0.6, 0.8, 1], yTicks: [0.5, 0.7, 0.9],
    xTitle: "Observed evenness", xTitleDy: 80, yTitle: "Predicted evenness",
    rmse: "RMSE =  0.13", rmseTop: false, rmseDy: 9.5, pts: evenFitPts, mass: evenFitMass,
  },
  {
    tag: "(f)", col: 1, row: 2, xLim: [0.0647, 1.0418], yLim: [0.4278, 1.0214],
    xTicks: [0.2, 0.4, 0.6, 0.8, 1], yTicks: [0.5, 0.7, 0.9],
    xTitle: "Observed evenness", xTitleDy: 80, yTitle: "",
    rmse: "RMSE =  0.13", rmseTop: false, rmseDy: 9.5, pts: evenValPts, mass: evenValMass,
  },
  {
    tag: "(g)", col: 0, row: 3, xLim: [-50, 1266], yLim: [-41.6, 1219],
    xTicks: [0, 400, 800, 1200], yTicks: [0, 400, 800, 1200],
    xTitle: "Observed nij", xTitleDy: 76, yTitle: "Predicted nij",
    rmse: "RMSE =  23.71", rmseTop: false, rmseDy: 7, pts: nijPts, mass: nijMass,
  },
];

function Panel({ p, idx }: { p: PanelSpec; idx: number }) {
  const x0 = COL_X[p.col];
  const y0 = ROW_Y[p.row];
  const x = d3.scaleLinear().domain(p.xLim).range([x0, x0 + PW]);
  const y = d3.scaleLinear().domain(p.yLim).range([y0 + PH, y0]);
  const all: Pt[] = [
    ...p.mass.flatMap(([pred, ...obs]) => obs.map((o) => [o, pred] as Pt)),
    ...p.pts,
  ];
  const lo = Math.max(p.xLim[0], p.yLim[0]);
  const hi = Math.min(p.xLim[1], p.yLim[1]);
  const clipId = `clip-${idx}`;
  const bottom = y0 + PH;
  const showY = p.col === 0;
  return (
    <g>
      <defs>
        <clipPath id={clipId}>
          <rect x={x0} y={y0} width={PW} height={PH} />
        </clipPath>
      </defs>
      <g clipPath={`url(#${clipId})`}>
        {all.map(([o, pr], i) => (
          <circle key={i} cx={x(o)} cy={y(pr)} r={3.7} fill="none" stroke={PT_COLOR} strokeWidth={1.4} />
        ))}
        <line
          x1={x(lo)} y1={y(lo)} x2={x(hi)} y2={y(hi)}
          stroke="#000" strokeWidth={1.8} strokeDasharray="8.5 5"
        />
      </g>
      <text x={x0 + 5} y={y0 + 28} fontFamily={FONT} fontWeight="bold" fontSize={23}>{p.tag}</text>
      <text
        x={x0 + PW - 12}
        y={p.rmseTop ? y0 + p.rmseDy : bottom - p.rmseDy}
        textAnchor="end" fontFamily={FONT} fontSize={20.8} style={{ whiteSpace: "pre" }}
      >{p.rmse}</text>
      <rect x={x0} y={y0} width={PW} height={PH} fill="none" stroke="#000" strokeWidth={1.8} />
      {p.xTicks.map((t) => (
        <g key={`xt${t}`}>
          <line x1={x(t)} x2={x(t)} y1={bottom} y2={bottom + 7} stroke="#000" strokeWidth={1.4} />
          <text x={x(t)} y={bottom + 41} textAnchor="middle" fontFamily={FONT} fontSize={21}>{String(t)}</text>
        </g>
      ))}
      {p.yTicks.map((t) => (
        <g key={`yt${t}`}>
          <line x1={x0 - 7} x2={x0} y1={y(t)} y2={y(t)} stroke="#000" strokeWidth={1.4} />
          {showY && (
            <text
              transform={`translate(${x0 - 13},${y(t)}) rotate(-90)`}
              textAnchor="middle" fontFamily={FONT} fontSize={21}
            >{String(t)}</text>
          )}
        </g>
      ))}
      <text x={x0 + PW / 2} y={bottom + p.xTitleDy} textAnchor="middle" fontFamily={FONT} fontSize={22.5}>{p.xTitle}</text>
      {showY && (
        <text
          transform={`translate(31,${y0 + PH / 2}) rotate(-90)`}
          textAnchor="middle" fontFamily={FONT} fontSize={22.5}
        >{p.yTitle}</text>
      )}
    </g>
  );
}

export default function App() {
  return (
    <svg
      width={W} height={H} viewBox={`0 0 ${W} ${H}`}
      style={{ position: "absolute", left: 0, top: 0, display: "block", background: "#fff" }}
    >
      <rect x={0} y={0} width={W} height={H} fill="#fff" />
      {COLUMN_TITLES.map((t, i) => (
        <text key={t} x={COL_X[i] + PW / 2} y={32} textAnchor="middle" fontFamily={FONT} fontWeight="bold" fontSize={25}>{t}</text>
      ))}
      {panels.map((p, i) => (
        <Panel key={p.tag} p={p} idx={i} />
      ))}
    </svg>
  );
}
